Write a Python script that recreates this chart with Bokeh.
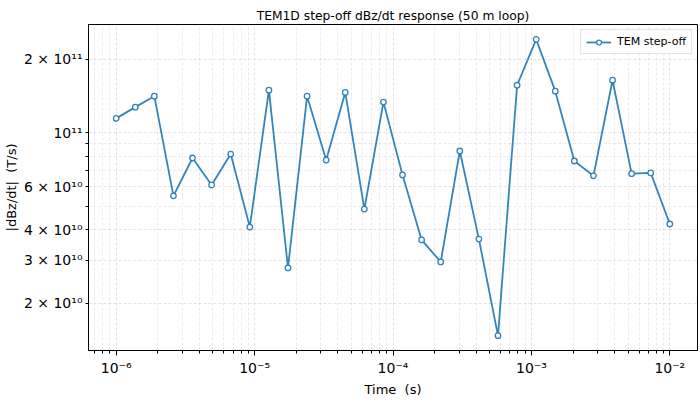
from bokeh.plotting import figure
from bokeh.models import (Range1d, FixedTicker, CustomJSTickFormatter, Legend,
                          LegendItem)
from bokeh.embed import file_html
from bokeh.resources import INLINE
import math

# Sample times (s) of the step-off response
time_s = [1.000e-6, 1.374e-6, 1.887e-6, 2.593e-6, 3.562e-6, 4.894e-6,
          6.723e-6, 9.237e-6, 1.269e-5, 1.743e-5, 2.395e-5, 3.290e-5,
          4.520e-5, 6.210e-5, 8.532e-5, 1.172e-4, 1.610e-4, 2.212e-4,
          3.039e-4, 4.175e-4, 5.736e-4, 7.881e-4, 1.083e-3, 1.487e-3,
          2.043e-3, 2.807e-3, 3.857e-3, 5.298e-3, 7.279e-3, 1.000e-2]

# |dBz/dt| (T/s)
dbz_dt = [1.145e11, 1.273e11, 1.412e11, 5.515e10, 7.88e10, 6.115e10,
          8.18e10, 4.11e10, 1.494e11, 2.796e10, 1.412e11, 7.73e10,
          1.462e11, 4.87e10, 1.335e11, 6.72e10, 3.64e10, 2.958e10,
          8.42e10, 3.67e10, 1.476e10, 1.565e11, 2.413e11, 1.48e11,
          7.66e10, 6.66e10, 1.641e11, 6.80e10, 6.85e10, 4.23e10]

x_major_ticks = [1e-6, 1e-5, 1e-4, 1e-3, 1e-2]
y_major_ticks = [2e10, 3e10, 4e10, 6e10, 1e11, 2e11]
y_minor_ticks = [5e10, 7e10, 8e10, 9e10]

series_name = "TEM step-off"
title_text = "TEM1D step-off dBz/dt response (50 m loop)"
x_label = "Time\u00a0\u00a0(s)"
y_label = "|dBz/dt|\u00a0\u00a0(T/s)"

FONT = "DejaVu Sans"
BLUE = "#1f77b4"


def log_limits(vals, frac=0.05):
    lo, hi = math.log10(min(vals)), math.log10(max(vals))
    pad = (hi - lo) * frac
    return 10 ** (lo - pad), 10 ** (hi + pad)


x0, x1 = log_limits(time_s)
y0, y1 = log_limits(dbz_dt)

p = figure(width=700, height=400, x_axis_type="log", y_axis_type="log",
           x_range=Range1d(x0, x1), y_range=Range1d(y0, y1),
           output_backend="svg", toolbar_location=None,
           min_border_left=87, min_border_right=3, min_border_top=24,
           min_border_bottom=50)

p.title.text = title_text
p.title.align = "center"
p.title.vertical_align = "top"
p.title.text_font = FONT
p.title.text_font_size = "12.3px"
p.title.text_font_style = "normal"
p.title.text_color = "black"
p.title.offset = 0
p.title.standoff = 0

# x ticks: decades, with 2..9 minor ticks in each decade
x_minor = []
for e in range(-7, -1):
    for m in range(2, 10):
        v = m * 10.0 ** e
        if x0 <= v <= x1:
            x_minor.append(v)
p.xaxis.ticker = FixedTicker(ticks=x_major_ticks, minor_ticks=x_minor)
p.yaxis.ticker = FixedTicker(ticks=y_major_ticks, minor_ticks=y_minor_ticks)

sci_fmt = CustomJSTickFormatter(code="""
    const sup = {"0":"\u2070","1":"\u00b9","2":"\u00b2","3":"\u00b3","4":"\u2074",
                 "5":"\u2075","6":"\u2076","7":"\u2077","8":"\u2078","9":"\u2079",
                 "-":"\u207b"};
    const e = Math.floor(Math.log10(tick) + 1e-9);
    const m = Math.round(tick / Math.pow(10, e));
    const es = String(e).split("").map(c => sup[c]).join("");
    return (m === 1 ? "" : m + " \u00d7 ") + "10" + es;
""")
p.xaxis.formatter = sci_fmt
p.yaxis.formatter = sci_fmt

for ax in (p.xaxis, p.yaxis):
    ax.major_label_text_font = FONT
    ax.major_label_text_font_size = "14px"
    ax.major_label_text_color = "black"
    ax.axis_label_text_font = FONT
    ax.axis_label_text_font_size = "13px"
    ax.axis_label_text_font_style = "normal"
    ax.axis_label_text_color = "black"
    ax.axis_line_color = "black"
    ax.major_tick_line_color = "black"
    ax.minor_tick_line_color = "black"
    ax.major_tick_in = 0
    ax.minor_tick_in = 0

p.xaxis.major_tick_out = 5
p.xaxis.minor_tick_out = 3
p.yaxis.major_tick_out = 3
p.yaxis.minor_tick_out = 3

p.xaxis.axis_label = x_label
p.yaxis.axis_label = y_label
p.xaxis.major_label_standoff = 4
p.yaxis.major_label_standoff = 3
p.yaxis.axis_label_standoff = 2
p.xaxis.axis_label_standoff = 3

p.outline_line_color = "black"
p.outline_line_width = 1

for g in (p.xgrid, p.ygrid):
    g.grid_line_color = "#b0b0b0"
    g.grid_line_alpha = 0.35
    g.grid_line_dash = "3 2"
    g.minor_grid_line_color = "#b0b0b0"
    g.minor_grid_line_alpha = 0.25
    g.minor_grid_line_dash = "3 2"

line = p.line(time_s, dbz_dt, line_color=BLUE, line_width=1.8, line_alpha=0.9)
dots = p.scatter(time_s, dbz_dt, marker="circle", size=5.5, line_color=BLUE,
                 line_width=1.3, fill_color="white", line_alpha=0.9)

legend = Legend(items=[LegendItem(label=series_name, renderers=[line, dots])],
                location="top_right")
legend.label_text_font = FONT
legend.label_text_font_size = "11px"
legend.label_text_color = "black"
legend.border_line_color = "#cccccc"
legend.border_line_width = 1
legend.glyph_width = 25
legend.glyph_height = 12
legend.padding = 5
legend.margin = 5
legend.spacing = 0
legend.label_standoff = 6
legend.label_height = 12
p.add_layout(legend)

open("out.html", "w").write(file_html(p, INLINE))
